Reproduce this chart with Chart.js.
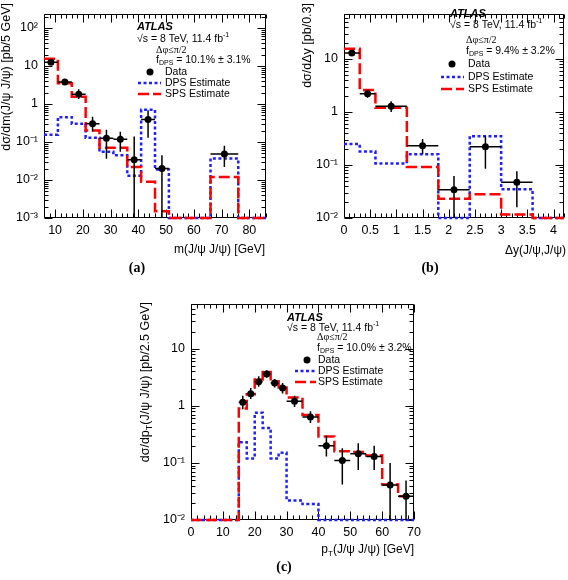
<!DOCTYPE html>
<html>
<head>
<meta charset="utf-8">
<script src="https://cdn.jsdelivr.net/npm/chart.js@4.4.0/dist/chart.umd.min.js"></script>
<style>
  body { margin: 0; background: #fff; width: 568px; height: 580px; position: relative; overflow: hidden; }
  canvas { position: absolute; }
</style>
</head>
<body>
<canvas id="massChart" style="left:0;top:0" width="284" height="290"></canvas>
<canvas id="rapChart" style="left:284px;top:0" width="284" height="290"></canvas>
<canvas id="ptChart" style="left:130px;top:290px" width="300" height="290"></canvas>
<script>
const FONT = "'Liberation Sans', Arial, sans-serif";

// (a) m(J/psi J/psi), 5 GeV bins
const massEdges = [6, 11, 16, 21, 26, 31, 36, 41, 46, 51, 66, 76, 86];
const massSps = [15.5, 3.5, 1.55, 0.2, 0.07, 0.07, 0.022, 0.009, 0.0015, 0.001, 0.012, 0.001];
const massDps = [0.155, 0.45, 0.3, 0.13, 0.055, 0.045, 0.013, 0.7, 0.019, 0.001, 0.037, 0.001];
const massPts = [8.5, 13.5, 18.5, 23.5, 28.5, 33.5, 38.5, 43.5, 48.5, 71];
const massVal = [12.5, 3.8, 1.8, 0.3, 0.125, 0.118, 0.034, 0.39, 0.02, 0.048];
const massLo = [10.8, 3.3, 1.35, 0.19, 0.036, 0.055, 0.0005, 0.13, 0.0005, 0.022];
const massHi = [14.3, 4.4, 2.45, 0.46, 0.21, 0.185, 0.14, 0.68, 0.045, 0.08];
const massTicks = [10, 20, 30, 40, 50, 60, 70, 80];

// (b) delta y, 0.3 bins
const rapEdges = [0, 0.3, 0.6, 1.2, 1.8, 2.4, 3.0, 3.6, 4.2];
const rapSps = [15.5, 2.6, 1.2, 0.092, 0.023, 0.028, 0.0117, 0.01];
const rapDps = [0.25, 0.18, 0.107, 0.16, 0.01, 0.35, 0.035, 0.01];
const rapPts = [0.15, 0.45, 0.9, 1.5, 2.1, 2.7, 3.3];
const rapVal = [13, 2.2, 1.28, 0.23, 0.034, 0.22, 0.047];
const rapLo = [11.6, 1.85, 1.0, 0.16, 0.005, 0.085, 0.016];
const rapHi = [14.5, 2.65, 1.6, 0.31, 0.062, 0.35, 0.076];
const rapTicks = [0, 0.5, 1, 1.5, 2, 2.5, 3, 3.5, 4];

// (c) pT(J/psi J/psi), 2.5 GeV bins
const ptEdges = [0, 15, 17.5, 20, 22.5, 25, 27.5, 30, 35, 40, 45, 50, 55, 60, 65, 70];
const ptSps = [0.01, 0.9, 1.6, 2.9, 3.9, 2.7, 2.1, 1.4, 0.69, 0.29, 0.16, 0.155, 0.135, 0.042, 0.026];
const ptDps = [0.01, 0.23, 0.12, 0.76, 0.41, 0.12, 0.15, 0.022, 0.019, 0.01, 0.01, 0.01, 0.01, 0.01, 0.01];
const ptPts = [16.25, 18.75, 21.25, 23.75, 26.25, 28.75, 32.5, 37.5, 42.5, 47.5, 52.5, 57.5, 62.5, 67.5];
const ptVal = [1.15, 1.62, 2.65, 3.6, 2.5, 2.05, 1.2, 0.64, 0.2, 0.11, 0.145, 0.13, 0.041, 0.026];
const ptLo = [0.87, 1.32, 2.15, 3.1, 2.1, 1.65, 0.95, 0.5, 0.13, 0.042, 0.075, 0.075, 0.005, 0.005];
const ptHi = [1.5, 2.05, 3.3, 4.2, 2.95, 2.5, 1.5, 0.8, 0.3, 0.18, 0.22, 0.2, 0.1, 0.049];
const ptTicks = [0, 10, 20, 30, 40, 50, 60, 70];

const SUP = { '-': '⁻', '0': '⁰', '1': '¹', '2': '²', '3': '³' };
function decadeLabel(v) {
    const e = Math.round(Math.log10(v));
    if (e === 0) return '1';
    if (e === 1) return '10';
    return '10' + String(e).split('').map(c => SUP[c]).join('');
}

function steps(edges, vals) {
    const pts = vals.map((v, i) => ({ x: edges[i], y: v }));
    pts.push({ x: edges[edges.length - 1], y: vals[vals.length - 1] });
    return pts;
}

function richText(ctx, parts, x, y, size, align) {
    const fontFor = k => (k ? Math.round(size * 0.7) : size) + 'px ' + FONT;
    const widths = parts.map(([t, k]) => { ctx.font = fontFor(k); return ctx.measureText(t).width; });
    const total = widths.reduce((a, b) => a + b, 0);
    let cx = align === 'right' ? x - total : align === 'center' ? x - total / 2 : x;
    ctx.textAlign = 'left';
    parts.forEach(([t, k], i) => {
        ctx.font = fontFor(k);
        const dy = k === 'sub' ? size * 0.28 : k === 'sup' ? -size * 0.35 : 0;
        ctx.fillText(t, cx, y + dy);
        cx += widths[i];
    });
}

// frame + inward ticks on all four sides, ROOT style
const frameTicks = {
    id: 'frameTicks',
    beforeDatasetsDraw(chart, args, o) {
        const { ctx, chartArea: a, scales: { x, y } } = chart;
        const L = Math.round(a.left) + 0.5, R = Math.round(a.right) - 0.5;
        const T = Math.round(a.top) + 0.5, B = Math.round(a.bottom) - 0.5;
        ctx.save();
        ctx.strokeStyle = '#000';
        ctx.lineWidth = 1;
        ctx.beginPath();
        ctx.rect(L, T, R - L, B - T);
        const n = Math.round((x.max - o.xStart) / o.xMinor);
        for (let i = 0; i <= n; i++) {
            const v = o.xStart + i * o.xMinor;
            const major = Math.abs(v / o.xMajor - Math.round(v / o.xMajor)) < 1e-6;
            const px = Math.round(x.getPixelForValue(v)) + 0.5;
            const len = major ? 8 : 4;
            ctx.moveTo(px, B); ctx.lineTo(px, B - len);
            ctx.moveTo(px, T); ctx.lineTo(px, T + len);
        }
        const e0 = Math.floor(Math.log10(y.min)), e1 = Math.ceil(Math.log10(y.max));
        for (let e = e0; e <= e1; e++) {
            for (let k = 1; k <= 9; k++) {
                const v = k * Math.pow(10, e);
                if (v < y.min * 0.999 || v > y.max) continue;
                const py = Math.round(y.getPixelForValue(v)) + 0.5;
                const len = k === 1 ? 8 : 4;
                ctx.moveTo(L, py); ctx.lineTo(L + len, py);
                ctx.moveTo(R, py); ctx.lineTo(R - len, py);
            }
        }
        ctx.stroke();
        ctx.restore();
    }
};

// data error bars, x bar spans the bin
const errorBars = {
    id: 'errorBars',
    afterDatasetsDraw(chart, args, o) {
        const { ctx, chartArea: a, scales: { x, y } } = chart;
        ctx.save();
        ctx.strokeStyle = '#000';
        ctx.lineWidth = 1.5;
        ctx.beginPath();
        o.pts.forEach((px, i) => {
            let j = 0;
            while (j < o.edges.length - 2 && o.edges[j + 1] <= px) j++;
            const cx = x.getPixelForValue(px);
            const cy = y.getPixelForValue(o.val[i]);
            const top = Math.max(a.top, y.getPixelForValue(o.hi[i]));
            const bot = Math.min(a.bottom, y.getPixelForValue(Math.max(o.lo[i], y.min)));
            ctx.moveTo(cx, top); ctx.lineTo(cx, bot);
            ctx.moveTo(x.getPixelForValue(o.edges[j]), cy);
            ctx.lineTo(x.getPixelForValue(o.edges[j + 1]), cy);
        });
        ctx.stroke();
        ctx.restore();
    }
};

const panelText = {
    id: 'panelText',
    afterDraw(chart, args, o) {
        const ctx = chart.ctx;
        ctx.save();
        ctx.fillStyle = '#000';
        ctx.textBaseline = 'middle';
        ctx.save();
        ctx.translate(o.yTitle[1], o.yTitle[2]);
        ctx.rotate(-Math.PI / 2);
        richText(ctx, o.yTitle[0], 0, 0, 12.5, 'right');
        ctx.restore();
        richText(ctx, o.xTitle[0], o.xTitle[1], o.xTitle[2], 12, 'right');

        ctx.font = 'bold 14px "Liberation Serif", serif';
        ctx.textAlign = 'center';
        ctx.fillText(o.tag[0], o.tag[1], o.tag[2]);

        ctx.textAlign = 'left';
        ctx.font = 'bold italic 11px ' + FONT;
        ctx.fillText('ATLAS', o.atlas[0], o.atlas[1]);
        richText(ctx, [['√s = 8 TeV, 11.4 fb', ''], ['-1', 'sup']], o.energy[0], o.energy[1], 10.5, 'left');
        ctx.font = '10px "Liberation Serif", serif';
        ctx.fillText('Δφ≤π/2', o.dphi[0], o.dphi[1]);
        richText(ctx, [['f', ''], ['DPS', 'sub'], [' = ' + o.fdps, '']], o.fpos[0], o.fpos[1], 10.5, 'left');

        const lg = o.legend;
        ctx.beginPath();
        ctx.arc(lg.marker, lg.rows[0], 3.5, 0, Math.PI * 2);
        ctx.fill();
        ctx.lineWidth = 2.5;
        ctx.setLineDash([3, 2.5]);
        ctx.strokeStyle = '#1f1fff';
        ctx.beginPath(); ctx.moveTo(lg.x0, lg.rows[1]); ctx.lineTo(lg.x1, lg.rows[1]); ctx.stroke();
        ctx.setLineDash([11, 4]);
        ctx.strokeStyle = '#ff0000';
        ctx.beginPath(); ctx.moveTo(lg.x0, lg.rows[2]); ctx.lineTo(lg.x1, lg.rows[2]); ctx.stroke();
        ctx.setLineDash([]);
        ctx.font = '10.5px ' + FONT;
        ctx.fillText('Data', lg.tx, lg.rows[0]);
        ctx.fillText('DPS Estimate', lg.tx, lg.rows[1]);
        ctx.fillText('SPS Estimate', lg.tx, lg.rows[2]);
        ctx.restore();
    }
};

function makePanel(id, p) {
    const canvas = document.getElementById(id);
    const ctx = canvas.getContext('2d');
    new Chart(ctx, {
        type: 'line',
        data: {
            datasets: [{
                data: p.pts.map((x, i) => ({ x: x, y: p.val[i] })),
                showLine: false,
                pointRadius: 3.5,
                pointBackgroundColor: '#000',
                pointBorderColor: '#000',
                pointBorderWidth: 0
            }, {
                data: steps(p.edges, p.sps),
                stepped: true,
                borderColor: '#ff0000',
                borderWidth: 2.5,
                borderDash: [11, 4],
                pointRadius: 0,
                clip: 5
            }, {
                data: steps(p.edges, p.dps),
                stepped: true,
                borderColor: '#1f1fff',
                borderWidth: 2.5,
                borderDash: [3, 2.5],
                pointRadius: 0,
                clip: 5
            }]
        },
        options: {
            responsive: false,
            animation: false,
            events: [],
            layout: {
                padding: p.padding
            },
            plugins: {
                legend: { display: false },
                tooltip: { enabled: false },
                frameTicks: { xStart: p.xMin, xMajor: p.xMajor, xMinor: p.xMinor },
                errorBars: { pts: p.pts, val: p.val, lo: p.lo, hi: p.hi, edges: p.edges },
                panelText: p.text
            },
            scales: {
                x: {
                    type: 'linear',
                    min: p.xMin,
                    max: p.xMax,
                    afterBuildTicks: s => { s.ticks = p.xTicks.map(v => ({ value: v })); },
                    afterFit: s => { s.height = p.xAxisH; },
                    ticks: {
                        callback: v => String(v),
                        font: { family: FONT, size: 12.5 },
                        color: '#000',
                        padding: 5,
                        maxRotation: 0,
                        autoSkip: false
                    },
                    grid: { display: false, drawTicks: false },
                    border: { display: false }
                },
                y: {
                    type: 'logarithmic',
                    min: p.yMin,
                    max: p.yMax,
                    afterBuildTicks: s => {
                        const t = [];
                        for (let e = Math.round(Math.log10(p.yMin)); Math.pow(10, e) <= p.yMax; e++) t.push({ value: Math.pow(10, e) });
                        s.ticks = t;
                    },
                    afterFit: s => { s.width = p.yAxisW; },
                    ticks: {
                        callback: decadeLabel,
                        font: { family: FONT, size: 12.5 },
                        color: '#000',
                        padding: 6,
                        autoSkip: false
                    },
                    grid: { display: false, drawTicks: false },
                    border: { display: false }
                }
            }
        },
        plugins: [frameTicks, errorBars, panelText]
    });
}

makePanel('massChart', {
    edges: massEdges, sps: massSps, dps: massDps,
    pts: massPts, val: massVal, lo: massLo, hi: massHi,
    xMin: 6, xMax: 86, xTicks: massTicks, xMajor: 10, xMinor: 2,
    yMin: 0.001, yMax: 240,
    padding: { left: 0, top: 3, right: 18, bottom: 0 },
    yAxisW: 44, xAxisH: 72,
    text: {
        yTitle: [[['dσ/dm(J/ψ J/ψ) [pb/5 GeV]', '']], 7, 3],
        xTitle: [[['m(J/ψ J/ψ) [GeV]', '']], 265, 250],
        tag: ['(a)', 137, 268],
        atlas: [137, 27], energy: [137, 39], dphi: [156, 50], fpos: [156, 60],
        fdps: '10.1% ± 3.1%',
        legend: { x0: 138, x1: 161, marker: 150, tx: 165, rows: [72, 83, 94] }
    }
});

makePanel('rapChart', {
    edges: rapEdges, sps: rapSps, dps: rapDps,
    pts: rapPts, val: rapVal, lo: rapLo, hi: rapHi,
    xMin: 0, xMax: 4.2, xTicks: rapTicks, xMajor: 0.5, xMinor: 0.1,
    yMin: 0.01, yMax: 72,
    padding: { left: 0, top: 3, right: 2, bottom: 0 },
    yAxisW: 60, xAxisH: 72,
    text: {
        yTitle: [[['dσ/dΔy [pb/0.3]', '']], 24, 3],
        xTitle: [[['Δy(J/ψ,J/ψ)', '']], 282, 251],
        tag: ['(b)', 146, 268],
        atlas: [166, 14], energy: [166, 25], dphi: [182, 40], fpos: [182, 51],
        fdps: '9.4% ± 3.2%',
        legend: { x0: 157, x1: 180, marker: 168, tx: 184, rows: [64, 77, 89] }
    }
});

makePanel('ptChart', {
    edges: ptEdges, sps: ptSps, dps: ptDps,
    pts: ptPts, val: ptVal, lo: ptLo, hi: ptHi,
    xMin: 0, xMax: 70, xTicks: ptTicks, xMajor: 10, xMinor: 2,
    yMin: 0.01, yMax: 62,
    padding: { left: 0, top: 10, right: 16, bottom: 0 },
    yAxisW: 61, xAxisH: 60,
    text: {
        yTitle: [[['dσ/dp', ''], ['T', 'sub'], ['(J/ψ J/ψ) [pb/2.5 GeV]', '']], 16, 12],
        xTitle: [[['p', ''], ['T', 'sub'], ['(J/ψ J/ψ) [GeV]', '']], 284, 260],
        tag: ['(c)', 154, 277],
        atlas: [157, 28], energy: [157, 38], dphi: [187, 47], fpos: [187, 58],
        fdps: '10.0% ± 3.2%',
        legend: { x0: 165, x1: 186, marker: 177, tx: 188, rows: [70, 81, 92] }
    }
});
</script>
</body>
</html>
